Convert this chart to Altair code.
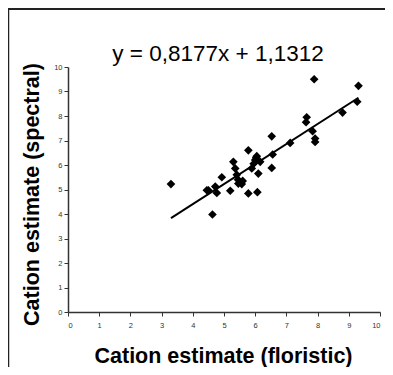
import altair as alt
import pandas as pd

# Data
floristic = [3.30, 4.63, 4.45, 4.50, 4.72, 4.77, 4.93, 5.20, 5.30, 5.36, 5.41, 5.46, 5.57,
             5.45, 5.60, 5.78, 5.78, 6.07, 5.89, 6.00, 6.05, 6.16, 6.10, 5.95, 6.03,
             6.53, 6.56, 6.53, 7.12, 7.65, 7.63, 7.84, 7.89, 7.92, 7.92, 8.80, 9.27, 9.31]
spectral = [5.22, 3.98, 4.97, 4.97, 5.12, 4.86, 5.50, 4.95, 6.13, 5.86, 5.60, 5.24, 5.22,
            5.40, 5.35, 6.60, 4.84, 4.89, 5.86, 6.20, 6.36, 6.13, 5.65, 6.05, 6.30,
            7.17, 6.43, 5.88, 6.90, 7.95, 7.75, 7.38, 9.50, 7.08, 6.94, 8.14, 8.58, 9.23]

slope = 0.8177
intercept = 1.1312
title_text = "y = 0,8177x + 1,1312"
ticks = list(range(0, 11))

FONT = "Liberation Sans"

pts = pd.DataFrame({"x": floristic, "y": spectral})
fit = pd.DataFrame({"x": [min(floristic), max(floristic)]})
fit["y"] = slope * fit["x"] + intercept

xscale = alt.Scale(domain=[0, 10], nice=False)
yscale = alt.Scale(domain=[0, 10], nice=False)

xaxis = alt.Axis(values=ticks, title="Cation estimate (floristic)", grid=False, labelOverlap=False,
                 titleX=155, titleY=50, titleBaseline="alphabetic",
                 titleFontSize=21.5, titleFont=FONT, titleFontWeight="bold", titleColor="black",
                 labelFontSize=7.5, labelFont=FONT, labelColor="#333", labelPadding=5,
                 tickSize=4, tickColor="#333", domainColor="#333", domainWidth=1.5, tickWidth=1)
yaxis = alt.Axis(values=ticks, title="Cation estimate (spectral)", grid=False, labelOverlap=False,
                 titleX=-30, titleY=127, titleBaseline="alphabetic", titleAngle=270,
                 titleFontSize=21.5, titleFont=FONT, titleFontWeight="bold", titleColor="black",
                 labelFontSize=7.5, labelFont=FONT, labelColor="#333", labelPadding=2,
                 tickSize=4, tickColor="#333", domainColor="#333", domainWidth=1.5, tickWidth=1)

points = alt.Chart(pts).mark_point(shape="diamond", filled=True, color="black", size=75, opacity=1).encode(
    x=alt.X("x:Q", scale=xscale, axis=xaxis),
    y=alt.Y("y:Q", scale=yscale, axis=yaxis),
)

line = alt.Chart(fit).mark_line(color="black", strokeWidth=2).encode(
    x=alt.X("x:Q", scale=xscale, axis=xaxis),
    y=alt.Y("y:Q", scale=yscale, axis=yaxis),
)

one = alt.Data(values=[{"a": 1}])
frame_top = alt.Chart(one).mark_rule(color="#222", strokeWidth=1.8).encode(
    x=alt.value(-60), x2=alt.value(317), y=alt.value(-58))
frame_left = alt.Chart(one).mark_rule(color="#222", strokeWidth=1.5).encode(
    x=alt.value(-59.5), y=alt.value(-59), y2=alt.value(300))
title = alt.Chart(one).mark_text(text=title_text, fontSize=22.5, font=FONT, color="black",
                                 align="center", baseline="alphabetic").encode(
    x=alt.value(150), y=alt.value(-6))

chart = alt.layer(points, line, frame_top, frame_left, title).properties(
    width=312, height=245,
    autosize=alt.AutoSizeParams(type="none"),
    padding={"left": 60, "top": 59, "right": 5, "bottom": 55},
).configure_view(stroke=None)

chart.save("out.html", embed_options={"renderer": "svg", "actions": False})
